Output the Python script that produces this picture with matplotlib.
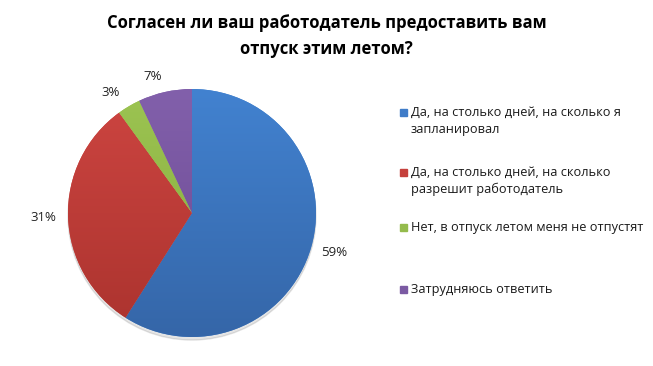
import matplotlib.pyplot as plt
import numpy as np
from matplotlib.colors import LinearSegmentedColormap
from matplotlib.patches import Rectangle

plt.rcParams['font.family'] = ['Open Sans', 'DejaVu Sans']

title = "Согласен ли ваш работодатель предоставить вам\nотпуск этим летом?"
labels = ["Да, на столько дней, на сколько я\nзапланировал",
          "Да, на столько дней, на сколько\nразрешит работодатель",
          "Нет, в отпуск летом меня не отпустят",
          "Затрудняюсь ответить"]
values = [59, 31, 3, 7]
top_colors = ['#4282d0', '#cd4541', '#9cc452', '#8260ab']
bottom_colors = ['#3566a8', '#ab332e', '#86aa3c', '#6a4891']
legend_colors = ['#3f7cc8', '#c5403c', '#94bb4c', '#7b5aa3']

fig = plt.figure(figsize=(6.53, 3.66), dpi=100)
fig.patch.set_facecolor('white')

# pie axes: centre ~ (192, 213) px, radius ~124 px
ax = fig.add_axes([(192 - 130) / 653, 1 - (213 + 130) / 366, 260 / 653, 260 / 366])
wedges, texts = ax.pie(values, startangle=90, counterclock=False, radius=1,
                       colors=top_colors, labels=[f"{v}%" for v in values],
                       labeldistance=1.14, textprops={'fontsize': 9.5, 'color': '#222222'})
ax.set_xlim(-130 / 124, 130 / 124)
ax.set_ylim(-130 / 124, 130 / 124)
ax.set_aspect('equal')

# vertical gradient inside each wedge, like the office chart
grad = np.linspace(0, 1, 256).reshape(-1, 1)
for w, c1, c2 in zip(wedges, top_colors, bottom_colors):
    cmap = LinearSegmentedColormap.from_list('g', [c1, c2])
    im = ax.imshow(grad, cmap=cmap, extent=[-1, 1, -1, 1], origin='upper',
                   aspect='auto', zorder=w.get_zorder() + 0.1)
    im.set_clip_path(w)

# soft shadow under the pie
shadow = plt.Circle((0.0, -0.025), 1.0, color='#000000', alpha=0.10, zorder=0)
ax.add_patch(shadow)

# label positions nudged to match reference
label_pos = [(1.145, -0.32), (-1.20, -0.04), (-0.66, 0.975), (-0.315, 1.097)]
for t, (x, y) in zip(texts, label_pos):
    t.set_position((x, y))
    t.set_ha('center')
    t.set_va('center')

fig.text(0.5, 1 - 36 / 366, title, ha='center', va='center', fontsize=12,
         fontweight='bold', color='#000000', linespacing=1.5)

# legend
legend_y = [121, 181, 227, 289]
for lab, c, y in zip(labels, legend_colors, legend_y):
    nl = lab.count('\n')
    ty = y - nl * 8.5
    fig.patches.append(Rectangle((400 / 653, 1 - (ty + 3.5) / 366), 7 / 653, 7 / 366,
                                 transform=fig.transFigure, color=c, figure=fig))
    fig.text(411 / 653, 1 - y / 366, lab, ha='left', va='center', fontsize=9.2,
             color='#1a1a1a', linespacing=1.4)

fig.savefig('out.png', dpi=100)
